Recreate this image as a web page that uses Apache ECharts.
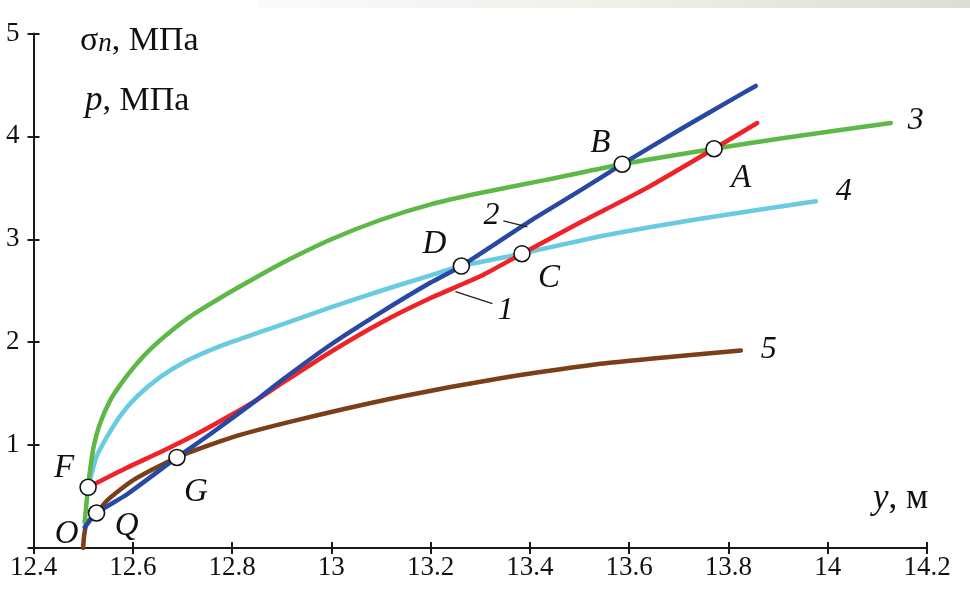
<!DOCTYPE html>
<html>
<head>
<meta charset="utf-8">
<script src="https://cdn.jsdelivr.net/npm/echarts@6/dist/echarts.min.js"></script>
<style>
  html, body { margin: 0; padding: 0; background: #fff; }
  #chart { width: 970px; height: 590px; }
</style>
</head>
<body>
<div id="chart"></div>
<script>
// Axis ranges and tick steps
const xMin = 12.4, xMax = 14.2, xStep = 0.2;
const yMin = 0, yMax = 5, yStep = 1;

// Curve 1 (red)
const curve1 = [[12.510,0.59],[12.588,0.78],[12.655,0.93],[12.722,1.09],[12.790,1.27],[12.850,1.44],[12.900,1.60],[13.000,1.91],[13.100,2.19],[13.200,2.43],[13.300,2.64],[13.384,2.86],[13.500,3.16],[13.636,3.50],[13.771,3.88],[13.858,4.13]];
// Curve 2 (blue)
const curve2 = [[12.503,0.20],[12.527,0.34],[12.588,0.52],[12.689,0.88],[12.760,1.12],[12.850,1.44],[12.900,1.63],[13.000,1.98],[13.100,2.29],[13.200,2.58],[13.262,2.74],[13.408,3.20],[13.500,3.47],[13.586,3.73],[13.700,4.06],[13.811,4.37],[13.855,4.49]];
// Curve 3 (green)
const curve3 = [[12.503,0.25],[12.510,0.59],[12.514,0.76],[12.521,0.98],[12.534,1.21],[12.554,1.43],[12.574,1.58],[12.601,1.75],[12.635,1.93],[12.675,2.10],[12.722,2.27],[12.776,2.43],[12.830,2.58],[12.897,2.76],[13.000,3.00],[13.100,3.19],[13.200,3.34],[13.300,3.45],[13.435,3.58],[13.586,3.73],[13.771,3.88],[13.905,3.98],[14.127,4.13]];
// Curve 4 (cyan)
const curve4 = [[12.510,0.59],[12.516,0.70],[12.527,0.89],[12.548,1.08],[12.574,1.28],[12.608,1.47],[12.655,1.66],[12.709,1.82],[12.775,1.96],[12.857,2.10],[12.900,2.17],[13.000,2.34],[13.100,2.50],[13.200,2.65],[13.262,2.74],[13.384,2.86],[13.542,3.03],[13.744,3.20],[13.976,3.37]];
// Curve 5 (brown)
const curve5 = [[12.500,0.00],[12.502,0.12],[12.507,0.24],[12.527,0.34],[12.550,0.47],[12.601,0.66],[12.689,0.88],[12.803,1.08],[12.937,1.25],[13.139,1.47],[13.341,1.65],[13.542,1.79],[13.643,1.84],[13.825,1.92]];

// Named intersection points
const pointNames = ['A', 'B', 'C', 'D', 'F', 'G', 'Q'];
const pointXY = [[13.771,3.88],[13.586,3.73],[13.384,2.86],[13.262,2.74],[12.510,0.59],[12.689,0.88],[12.527,0.34]];
const originName = 'O';
const originXY = [12.503, 0.20];

// Curve numbers
const curveNames = ['1', '2', '3', '4', '5'];

const FONT = "'Liberation Serif', 'Times New Roman', serif";
const AXIS = '#1a1a1a';
const INK = '#111111';
const LETTER = 33;

// Label offsets (pixels) for the lettered points
const letterOffset = { A: [27, 30], B: [-22, -21], C: [27, 25], D: [-27, -22], F: [-24, -19], G: [19, 35], Q: [30, 13] };

const chart = echarts.init(document.getElementById('chart'), null, { renderer: 'canvas' });

const fmtX = v => String(Math.round(v * 10) / 10);

function curveSeries(data, color, name, endOffset) {
  const s = {
    type: 'line', name: name, data: data, xAxisIndex: 0, yAxisIndex: 0,
    showSymbol: false, symbol: 'none', smooth: 0.2,
    lineStyle: { color: color, width: 4.5, cap: 'round', join: 'round' },
    z: 3, silent: true
  };
  if (endOffset) {
    s.endLabel = {
      show: true, formatter: name, offset: endOffset,
      fontFamily: FONT, fontStyle: 'italic', fontSize: 32, color: INK
    };
  }
  return s;
}

const option = {
  animation: false,
  backgroundColor: '#ffffff',
  grid: { left: 33.5, right: 43, top: 33.5, bottom: 42, outerBoundsMode: 'none', containLabel: false },
  xAxis: [
    {
      type: 'value', min: xMin, max: xMax, interval: xStep, position: 'bottom',
      axisLine: { show: true, lineStyle: { color: AXIS, width: 2 } },
      axisTick: { show: true, inside: false, length: 6, lineStyle: { color: AXIS, width: 2 } },
      axisLabel: { show: true, margin: 6, formatter: fmtX, fontFamily: FONT, fontSize: 27, color: INK },
      splitLine: { show: false }
    },
    {
      type: 'value', min: xMin, max: xMax, interval: xStep, position: 'bottom',
      axisLine: { show: false },
      axisTick: { show: true, inside: true, length: 6, lineStyle: { color: AXIS, width: 2 } },
      axisLabel: { show: false }, splitLine: { show: false }
    }
  ],
  yAxis: [
    {
      type: 'value', min: yMin, max: yMax, interval: yStep, position: 'left',
      axisLine: { show: true, lineStyle: { color: AXIS, width: 2 } },
      axisTick: { show: true, inside: false, length: 6, lineStyle: { color: AXIS, width: 2 } },
      axisLabel: { show: true, margin: 14, formatter: v => (v === 0 ? '' : String(v)), fontFamily: FONT, fontSize: 27, color: INK },
      splitLine: { show: false }
    },
    {
      type: 'value', min: yMin, max: yMax, interval: yStep, position: 'left',
      axisLine: { show: false },
      axisTick: { show: true, inside: true, length: 6, lineStyle: { color: AXIS, width: 2 } },
      axisLabel: { show: false }, splitLine: { show: false }
    }
  ],
  series: [
    curveSeries(curve5, '#7a3f17', curveNames[4], [12, -1]),
    curveSeries(curve4, '#68cbe0', curveNames[3], [12, -10]),
    curveSeries(curve3, '#5cb847', curveNames[2], [9, -2]),
    curveSeries(curve1, '#ee2227', curveNames[0], null),
    curveSeries(curve2, '#2849a3', curveNames[1], null),
    {
      type: 'scatter', xAxisIndex: 0, yAxisIndex: 0, z: 5, silent: true,
      symbol: 'circle', symbolSize: 16,
      itemStyle: { color: '#ffffff', borderColor: INK, borderWidth: 1.6, opacity: 1 },
      data: pointXY.map((p, i) => ({
        value: p,
        label: {
          show: true, formatter: pointNames[i], position: 'inside',
          offset: letterOffset[pointNames[i]],
          fontFamily: FONT, fontStyle: 'italic', fontSize: LETTER, color: INK
        }
      }))
    },
    {
      type: 'scatter', xAxisIndex: 0, yAxisIndex: 0, z: 5, silent: true,
      symbolSize: 0, itemStyle: { opacity: 1 },
      data: [{
        value: originXY,
        label: { show: true, formatter: originName, position: 'inside', offset: [-18, 7],
          fontFamily: FONT, fontStyle: 'italic', fontSize: LETTER, color: INK }
      }]
    }
  ],
  graphic: [
    {
      type: 'rect', left: 258, top: 0, z: 0, silent: true,
      shape: { width: 712, height: 8 },
      style: {
        fill: new echarts.graphic.LinearGradient(0, 0, 1, 0, [
          { offset: 0, color: '#fbfbfb' },
          { offset: 0.5, color: '#eef0ea' },
          { offset: 1, color: '#dcddd5' }
        ])
      }
    },
    {
      type: 'text', x: 80, y: 41, z: 10, silent: true,
      style: {
        text: '{s|σ}{n|n}{r|, МПа}', verticalAlign: 'middle',
        rich: {
          s: { fontFamily: FONT, fontSize: 34, fill: INK },
          n: { fontFamily: FONT, fontStyle: 'italic', fontSize: 27, fill: INK, padding: [6, 0, 0, 0] },
          r: { fontFamily: FONT, fontSize: 34, fill: INK }
        }
      }
    },
    {
      type: 'text', x: 85, y: 101, z: 10, silent: true,
      style: {
        text: '{p|p}{r|, МПа}', verticalAlign: 'middle',
        rich: {
          p: { fontFamily: FONT, fontStyle: 'italic', fontSize: 35, fill: INK },
          r: { fontFamily: FONT, fontSize: 34, fill: INK }
        }
      }
    },
    {
      type: 'text', x: 873, y: 499, z: 10, silent: true,
      style: {
        text: '{y|y}{r|, м}', verticalAlign: 'middle',
        rich: {
          y: { fontFamily: FONT, fontStyle: 'italic', fontSize: 35, fill: INK },
          r: { fontFamily: FONT, fontSize: 35, fill: INK }
        }
      }
    }
  ]
};

chart.setOption(option);

// Leader lines tying the numbers "1" and "2" to their curves
const leaders = [
  { text: curveNames[0], at: [13.25, 2.54], line: [0, 5, 37, 17], label: [50, 24] },
  { text: curveNames[1], at: [13.395, 3.16], line: [0, 4, -24, -2], label: [-36, -7] }
];
const extra = [];
leaders.forEach(l => {
  const p = chart.convertToPixel({ gridIndex: 0 }, l.at);
  extra.push({
    type: 'line', silent: true, z: 10,
    shape: { x1: p[0] + l.line[0], y1: p[1] + l.line[1], x2: p[0] + l.line[2], y2: p[1] + l.line[3] },
    style: { stroke: '#222', lineWidth: 1.3 }
  });
  extra.push({
    type: 'text', silent: true, z: 10,
    x: p[0] + l.label[0], y: p[1] + l.label[1],
    style: { text: l.text, align: 'center', verticalAlign: 'middle', fontFamily: FONT, fontStyle: 'italic', fontSize: 32, fill: INK }
  });
});
chart.setOption({ graphic: option.graphic.concat(extra) });
</script>
</body>
</html>
